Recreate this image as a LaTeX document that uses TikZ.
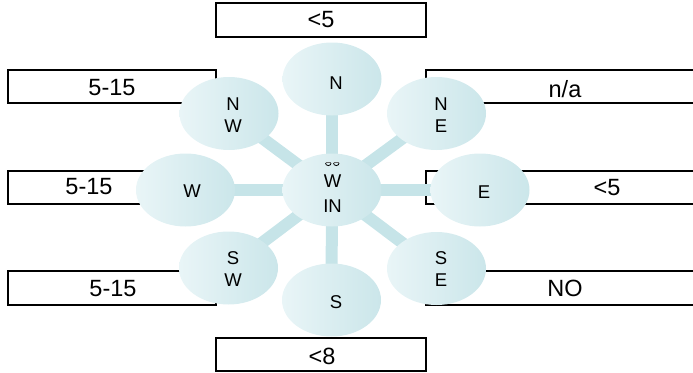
\documentclass[tikz,border=0pt]{standalone}
\usepackage{fontspec}
\setmainfont{Liberation Sans}
\usetikzlibrary{shapes.geometric}
\pgfdeclarelayer{boxes}
\pgfdeclarelayer{conns}
\pgfsetlayers{boxes,conns,main}
\definecolor{ellL}{HTML}{E9F5F7}
\definecolor{ellR}{HTML}{CBE6EA}
\definecolor{connc}{HTML}{C6E4E8}
\tikzset{
  valbox/.style={draw=black, line width=2pt, fill=white, inner sep=0pt},
  valtext/.style={inner sep=0pt, font=\fontsize{23.5}{23.5}\selectfont},
  direll/.style={ellipse, minimum width=99pt, minimum height=73pt, inner sep=0pt, left color=ellL, right color=ellR, draw=none},
  dirtext/.style={inner sep=0pt, align=center, font=\fontsize{18.5}{22}\selectfont},
  conn/.style={connc, line width=12pt}
}
\begin{document}
\begin{tikzpicture}[x=1pt,y=-1pt]
\useasboundingbox (0,0) rectangle (693,372);
\clip (0,0) rectangle (693,372);
% boxes
\begin{pgfonlayer}{boxes}
\node[valbox, minimum width=210pt, minimum height=34pt] (btop) at (321,20) {};
\node[valbox, minimum width=208pt, minimum height=33pt] (bnw) at (112,86.5) {};
\node[valbox, minimum width=274pt, minimum height=33pt] (bne) at (563,86.5) {};
\node[valbox, minimum width=208pt, minimum height=33pt] (bw) at (112,187.5) {};
\node[valbox, minimum width=274pt, minimum height=33pt] (be) at (563,187.5) {};
\node[valbox, minimum width=208pt, minimum height=34pt] (bsw) at (112,288) {};
\node[valbox, minimum width=274pt, minimum height=34pt] (bse) at (563,288) {};
\node[valbox, minimum width=210pt, minimum height=33pt] (bbot) at (321,354.5) {};
\end{pgfonlayer}
% ellipses
\node[direll] (c) at (332,190) {};
\node[direll] (n) at (332,79) {};
\node[direll] (nw) at (229,113.5) {};
\node[direll] (ne) at (436.5,113.5) {};
\node[direll] (w) at (185.5,190) {};
\node[direll] (e) at (480,190) {};
\node[direll] (sw) at (228.5,268) {};
\node[direll] (se) at (436.5,268.5) {};
\node[direll] (s) at (331.5,300) {};
% connectors
\begin{pgfonlayer}{conns}
\foreach \t in {n,nw,ne,w,e,sw,se,s}{\draw[conn] (c.center) -- (\t.center);}
\end{pgfonlayer}
% box texts
\node[valtext] (tbtop) at (321,20) {<5};
\node[valtext] (tbnw) at (112,87.5) {5-15};
\node[valtext] (tbne) at (565,89) {n/a};
\node[valtext] (tbw) at (89,187) {5-15};
\node[valtext] (tbe) at (607,188) {<5};
\node[valtext] (tbsw) at (113,288.5) {5-15};
\node[valtext] (tbse) at (565,288.5) {NO};
\node[valtext] (tbbot) at (322,356) {<8};
% ellipse texts
\node[dirtext] (tn) at (336,83) {N};
\node[dirtext] (tnw) at (233,115.5) {N\\W};
\node[dirtext] (tne) at (441,115.5) {N\\E};
\node[dirtext] (tw) at (192,191.5) {W};
\node[dirtext] (te) at (484,192) {E};
\node[dirtext] (tsw) at (233,269) {S\\W};
\node[dirtext] (tse) at (441,269) {S\\E};
\node[dirtext] (ts) at (336,302) {S};
\node[dirtext, font=\fontsize{18.5}{24.5}\selectfont] (tc) at (332.5,193.5) {W\\IN};
% clipped glyph remnants above the centre text
\draw[line width=0.8pt] (325.5,163) arc[start angle=180, end angle=360, x radius=2.8pt, y radius=2.6pt];
\draw[line width=0.8pt] (333.5,163) arc[start angle=180, end angle=360, x radius=2.8pt, y radius=2.6pt];
\draw[line width=0.4pt, black!60] (325.5,162) -- (331.1,162) (333.5,162) -- (339.1,162);
\end{tikzpicture}
\end{document}
